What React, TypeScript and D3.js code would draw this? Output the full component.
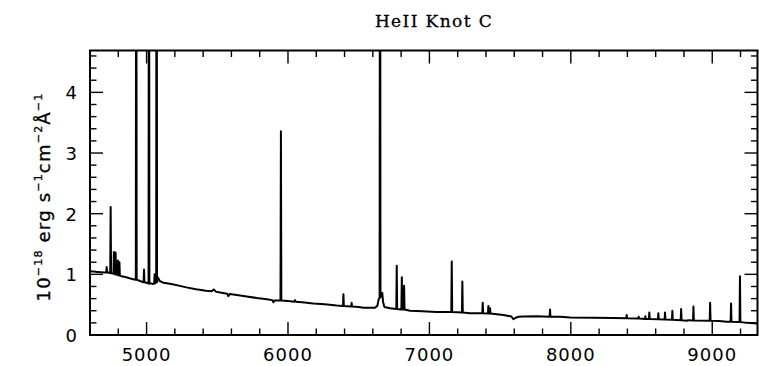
import React from "react";
import * as d3 from "d3";

// Continuum points [wavelength (Å), flux]
const continuum: [number, number][] = [
  [4600, 1.05], [4625, 1.045], [4650, 1.04], [4680, 1.035], [4700, 1.03], [4730, 1.03],
  [4822, 0.97], [4850, 0.955], [4880, 0.935], [4905, 0.92], [4950, 0.895], [4970, 0.875],
  [5000, 0.86], [5034, 0.85], [5045, 0.84], [5080, 0.95], [5093, 0.89], [5120, 0.86],
  [5175, 0.84], [5236, 0.81], [5281, 0.785], [5350, 0.755], [5420, 0.73], [5460, 0.72],
  [5475, 0.75], [5490, 0.715], [5520, 0.7], [5570, 0.68], [5578, 0.64], [5588, 0.675],
  [5650, 0.655], [5708, 0.635], [5780, 0.61], [5850, 0.59], [5890, 0.575], [5897, 0.54],
  [5905, 0.57], [6000, 0.56], [6045, 0.55], [6050, 0.575], [6056, 0.55], [6100, 0.54],
  [6180, 0.52], [6260, 0.505], [6345, 0.485], [6500, 0.46], [6533, 0.45], [6615, 0.45],
  [6632, 0.48], [6640, 0.58], [6660, 0.7], [6667, 0.69], [6672, 0.55], [6682, 0.46],
  [6722, 0.44], [6863, 0.4], [6950, 0.39], [7052, 0.38], [7287, 0.36], [7523, 0.33],
  [7580, 0.305], [7594, 0.26], [7610, 0.285], [7630, 0.3], [7664, 0.305], [7758, 0.31],
  [7924, 0.3], [7995, 0.29], [8160, 0.285], [8300, 0.28], [8820, 0.235], [8830, 0.245],
  [9050, 0.23], [9102, 0.22], [9244, 0.2], [9320, 0.19],
];

// Emission lines [centre (Å), peak flux, base flux]
const lines: [number, number, number][] = [
  [4718, 1.12, 1.03], [4746, 2.11, 1.02], [4769, 1.37, 1.01], [4781, 1.36, 1.0],
  [4797, 1.23, 0.99], [4808, 1.2, 0.98], [4927, 10, 0.91], [4982, 1.08, 0.87],
  [5017, 12, 0.85], [5057, 1.0, 0.85], [5071, 12, 0.87], [5950, 3.36, 0.57],
  [6392, 0.67, 0.48], [6450, 0.53, 0.47], [6651, 12, 0.62], [6769, 1.14, 0.43],
  [6805, 0.95, 0.42], [6821, 0.81, 0.42], [7158, 1.21, 0.38], [7233, 0.88, 0.37],
  [7377, 0.53, 0.36], [7417, 0.48, 0.355], [7429, 0.44, 0.355], [7853, 0.42, 0.3],
  [8395, 0.33, 0.275], [8480, 0.3, 0.27], [8527, 0.31, 0.265], [8555, 0.37, 0.265],
  [8619, 0.36, 0.26], [8666, 0.37, 0.255], [8718, 0.4, 0.25], [8780, 0.43, 0.245],
  [8867, 0.47, 0.24], [8985, 0.53, 0.235], [9133, 0.52, 0.22], [9196, 0.97, 0.215],
];

const xMajorTicks = [5000, 6000, 7000, 8000, 9000];
const yMajorTicks = [0, 1, 2, 3, 4];
const titleText = "HeII Knot C";

const W = 759;
const H = 366;
const L = 90;
const R = 757.5;
const T = 50.5;
const B = 335;

export default function App() {
  const x = d3.scaleLinear().domain([4600, 9320]).range([L, R]);
  const y = d3.scaleLinear().domain([0, 4.69]).range([B, T]);

  const pts: [number, number][] = [...continuum];
  lines.forEach(([c, p, b]) => {
    pts.push([c - 3, b], [c, p], [c + 3, b]);
  });
  pts.sort((a, b) => a[0] - b[0]);

  const path = d3
    .line<[number, number]>()
    .x((d) => x(d[0]))
    .y((d) => y(d[1]))(pts) as string;

  const xMinor = d3.range(4600, 9321, 200).filter((v) => v % 1000 !== 0);
  const yMinor = d3.range(0, 4.69, 0.2).filter((v) => Math.abs(v - Math.round(v)) > 0.01);

  const major = 13;
  const minor = 6.5;
  const tickStyle = { stroke: "#000", strokeWidth: 1.4 };

  return (
    <svg
      width={W}
      height={H}
      style={{ position: "fixed", left: 0, top: 0, background: "#fff" }}
      xmlns="http://www.w3.org/2000/svg"
    >
      <rect x={0} y={0} width={W} height={H} fill="#fff" />
      <defs>
        <clipPath id="plot">
          <rect x={L} y={T} width={R - L} height={B - T} />
        </clipPath>
      </defs>

      <path
        d={path}
        fill="none"
        stroke="#000"
        strokeWidth={2}
        strokeLinejoin="round"
        clipPath="url(#plot)"
      />

      {/* x ticks */}
      {xMajorTicks.map((v) => (
        <g key={"xM" + v}>
          <line x1={x(v)} x2={x(v)} y1={B} y2={B - major} {...tickStyle} />
          <line x1={x(v)} x2={x(v)} y1={T} y2={T + major} {...tickStyle} />
          <text
            x={x(v)}
            y={361}
            textAnchor="middle"
            fontFamily="DejaVu Sans"
            fontSize={18}
            letterSpacing={1}
            fill="#000"
          >
            {v}
          </text>
        </g>
      ))}
      {xMinor.map((v) => (
        <g key={"xm" + v}>
          <line x1={x(v)} x2={x(v)} y1={B} y2={B - minor} {...tickStyle} />
          <line x1={x(v)} x2={x(v)} y1={T} y2={T + minor} {...tickStyle} />
        </g>
      ))}

      {/* y ticks */}
      {yMajorTicks.map((v) => (
        <g key={"yM" + v}>
          <line x1={L} x2={L + major} y1={y(v)} y2={y(v)} {...tickStyle} />
          <line x1={R} x2={R - major} y1={y(v)} y2={y(v)} {...tickStyle} />
          <text
            x={77}
            y={y(v) + 7}
            textAnchor="end"
            fontFamily="DejaVu Sans"
            fontSize={18}
            fill="#000"
          >
            {v}
          </text>
        </g>
      ))}
      {yMinor.map((v) => (
        <g key={"ym" + v}>
          <line x1={L} x2={L + minor} y1={y(v)} y2={y(v)} {...tickStyle} />
          <line x1={R} x2={R - minor} y1={y(v)} y2={y(v)} {...tickStyle} />
        </g>
      ))}

      {/* frame */}
      <rect x={L} y={T} width={R - L} height={B - T} fill="none" stroke="#000" strokeWidth={2} />

      {/* title */}
      <text
        x={434}
        y={26.5}
        textAnchor="middle"
        fontFamily="DejaVu Serif"
        fontSize={17}
        letterSpacing={1.4}
        stroke="#000"
        strokeWidth={0.3}
        fill="#000"
      >
        {titleText}
      </text>

      {/* y label */}
      <text
        transform="translate(50,197) rotate(-90)"
        textAnchor="middle"
        fontFamily="DejaVu Sans"
        fontSize={18}
        letterSpacing={1.2}
        stroke="#000"
        strokeWidth={0.3}
        fill="#000"
      >
        <tspan>10</tspan>
        <tspan dy={-8} fontSize={11}>−18</tspan>
        <tspan dy={8}>{"  erg s"}</tspan>
        <tspan dy={-8} fontSize={11}>−1</tspan>
        <tspan dy={8}>cm</tspan>
        <tspan dy={-8} fontSize={11}>−2</tspan>
        <tspan dy={8}>Å</tspan>
        <tspan dy={-8} fontSize={11}>−1</tspan>
      </text>
    </svg>
  );
}
